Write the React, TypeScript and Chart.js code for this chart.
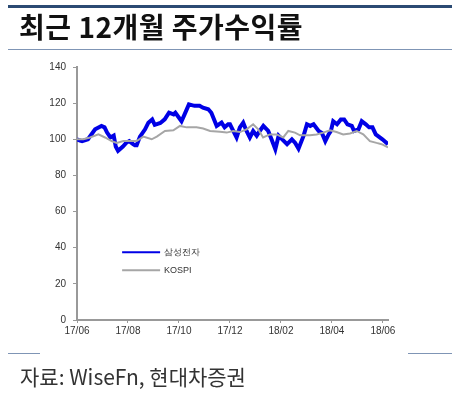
import React, { useEffect, useRef } from "react";
import { Chart, registerables } from "chart.js";

Chart.register(...registerables);

// x = months since 2017/06
const xTickLabels = ["17/06", "17/08", "17/10", "17/12", "18/02", "18/04", "18/06"];

const samsungX = [0, 0.12, 0.2, 0.43, 0.71, 0.96, 1.08, 1.18, 1.31, 1.44, 1.45, 1.52, 1.61, 1.8, 1.93, 2.05, 2.2, 2.27, 2.34, 2.47, 2.67, 2.8, 2.95, 3.05, 3.27, 3.44, 3.61, 3.79, 3.86, 4.1, 4.22, 4.39, 4.61, 4.81, 4.94, 5.15, 5.27, 5.48, 5.67, 5.79, 5.93, 6.0, 6.13, 6.26, 6.39, 6.52, 6.65, 6.78, 6.91, 7.05, 7.17, 7.31, 7.5, 7.63, 7.78, 7.91, 8.05, 8.24, 8.43, 8.56, 8.69, 8.89, 9.02, 9.15, 9.28, 9.48, 9.61, 9.74, 9.87, 9.96, 10.05, 10.2, 10.35, 10.48, 10.61, 10.78, 10.87, 11.04, 11.17, 11.33, 11.46, 11.59, 11.72, 11.98, 12.2];
const samsungY = [100, 99.3, 99, 100, 105.5, 107.4, 106.6, 103.7, 101, 102, 102, 96, 93.6, 96, 98, 99, 97.3, 96.7, 96.7, 101.5, 105.5, 109.2, 111, 108, 109, 111, 114.7, 113.8, 114.7, 110, 113.8, 119.3, 118.5, 118.5, 117.5, 116.6, 114.7, 107.4, 109.2, 106.6, 108.3, 108.3, 104.6, 101, 106.6, 109.2, 104.6, 101, 104.6, 102, 104.6, 107.4, 104.6, 100, 94.5, 102, 100, 97.3, 100, 98, 94.8, 102, 108.3, 107.4, 108.3, 104.6, 103.4, 99, 102.7, 104.6, 110, 108.3, 111, 111, 108.3, 107.4, 104.6, 105.5, 110, 108.3, 106.6, 106.6, 102.7, 100, 97.3, 98, 100.3, 97.3, 94.5];

const kospiX = [0, 0.25, 0.51, 0.84, 1.1, 1.36, 1.56, 1.82, 2.08, 2.34, 2.6, 2.93, 3.13, 3.45, 3.78, 4.04, 4.3, 4.69, 4.95, 5.22, 5.61, 5.87, 6.13, 6.39, 6.65, 6.91, 7.11, 7.3, 7.57, 7.83, 8.09, 8.29, 8.55, 8.75, 9.14, 9.4, 9.66, 9.92, 10.18, 10.44, 10.71, 10.97, 11.23, 11.49, 11.75, 11.95, 12.2];
const kospiY = [100, 100, 101, 102.7, 101, 99, 98, 99, 99, 99, 101.5, 100, 101.5, 104.6, 105, 107.4, 106.6, 106.6, 106, 104.6, 104.2, 103.7, 104.6, 104, 105.5, 108.3, 105.5, 101, 102.7, 102.7, 101, 104.6, 103.7, 102.2, 102.2, 102.7, 103.7, 105, 104, 102.7, 103.2, 104.6, 102.7, 99, 98, 97.3, 95.5];

const seriesNames = ["삼성전자", "KOSPI"];
const seriesColors = ["#0000E6", "#A6A6A6"];

const FONT = "'Liberation Sans', Arial, sans-serif";

const legendPlugin = {
  id: "innerLegend",
  afterDraw(chart: any) {
    const ctx = chart.ctx;
    const xs = chart.scales.x;
    const ys = chart.scales.y;
    const x0 = xs.getPixelForValue(1.77);
    const x1 = xs.getPixelForValue(3.26);
    const rows = [ys.getPixelForValue(37.5), ys.getPixelForValue(27.5)];
    ctx.save();
    seriesNames.forEach((name, i) => {
      ctx.strokeStyle = seriesColors[i];
      ctx.lineWidth = 2;
      ctx.beginPath();
      ctx.moveTo(x0, rows[i]);
      ctx.lineTo(x1, rows[i]);
      ctx.stroke();
      ctx.fillStyle = "#333";
      ctx.font = `9px ${FONT}`;
      ctx.textBaseline = "middle";
      ctx.textAlign = "left";
      ctx.fillText(name, x1 + 4, rows[i] + 0.5);
    });
    ctx.restore();
  },
};

export default function App() {
  const ref = useRef<HTMLCanvasElement>(null);
  useEffect(() => {
    document.body.style.margin = "0";
    const sData = samsungX.map((x, i) => ({ x, y: samsungY[i] }));
    const kData = kospiX.map((x, i) => ({ x, y: kospiY[i] }));
    const chart = new Chart(ref.current!, {
      type: "line",
      data: {
        datasets: [
          {
            label: seriesNames[1],
            data: kData,
            borderColor: seriesColors[1],
            borderWidth: 2,
            pointRadius: 0,
            tension: 0,
          },
          {
            label: seriesNames[0],
            data: sData,
            borderColor: seriesColors[0],
            borderWidth: 4,
            pointRadius: 0,
            tension: 0,
          },
        ],
      },
      options: {
        animation: false,
        responsive: false,
        layout: { padding: { left: 0, top: 67, right: 82, bottom: 0 } },
        plugins: { legend: { display: false }, tooltip: { enabled: false } },
        scales: {
          x: {
            type: "linear",
            min: 0,
            max: 12.2,
            afterFit: (s: any) => {
              s.height = 77;
            },
            grid: { display: true, drawOnChartArea: false, drawTicks: true, tickLength: 3, color: "#999" },
            border: { display: true, color: "#999", width: 2 },
            ticks: {
              stepSize: 2,
              includeBounds: false,
              autoSkip: false,
              maxRotation: 0,
              padding: 2,
              color: "#333",
              font: { family: FONT, size: 10 },
              callback: (v: any) => xTickLabels[Math.round(Number(v) / 2)] ?? "",
            },
          },
          y: {
            min: 0,
            max: 140,
            afterFit: (s: any) => {
              s.width = 77;
            },
            grid: { display: true, drawOnChartArea: false, drawTicks: true, tickLength: 4, color: "#999" },
            border: { display: true, color: "#999", width: 2 },
            ticks: {
              stepSize: 20,
              padding: 7,
              color: "#333",
              font: { family: FONT, size: 10 },
            },
          },
        },
      },
      plugins: [legendPlugin],
    });
    return () => chart.destroy();
  }, []);

  return (
    <div style={{ position: "relative", width: 470, height: 397, background: "#fff", overflow: "hidden" }}>
      <canvas ref={ref} width={470} height={397} style={{ position: "absolute", left: 0, top: 0 }} />
      <div style={{ position: "absolute", left: 8, top: 5, width: 444, height: 3, background: "#2B4A73" }} />
      <div
        style={{
          position: "absolute",
          left: 19,
          top: 7,
          fontFamily: "'Noto Sans CJK KR', sans-serif",
          fontWeight: 700,
          fontSize: 28,
          letterSpacing: "0.5px",
          lineHeight: "38px",
          color: "#111",
          whiteSpace: "nowrap",
        }}
      >
        최근 12개월 주가수익률
      </div>
      <div style={{ position: "absolute", left: 8, top: 49, width: 444, height: 1, background: "#7F95B5" }} />
      <div style={{ position: "absolute", left: 8, top: 353, width: 32, height: 1, background: "#7F95B5" }} />
      <div style={{ position: "absolute", left: 408, top: 353, width: 44, height: 1, background: "#7F95B5" }} />
      <div
        style={{
          position: "absolute",
          left: 20,
          top: 361,
          fontFamily: "'Noto Sans CJK KR', sans-serif",
          fontSize: 21,
          lineHeight: "30px",
          color: "#333",
          whiteSpace: "nowrap",
        }}
      >
        자료: WiseFn, 현대차증권
      </div>
    </div>
  );
}
